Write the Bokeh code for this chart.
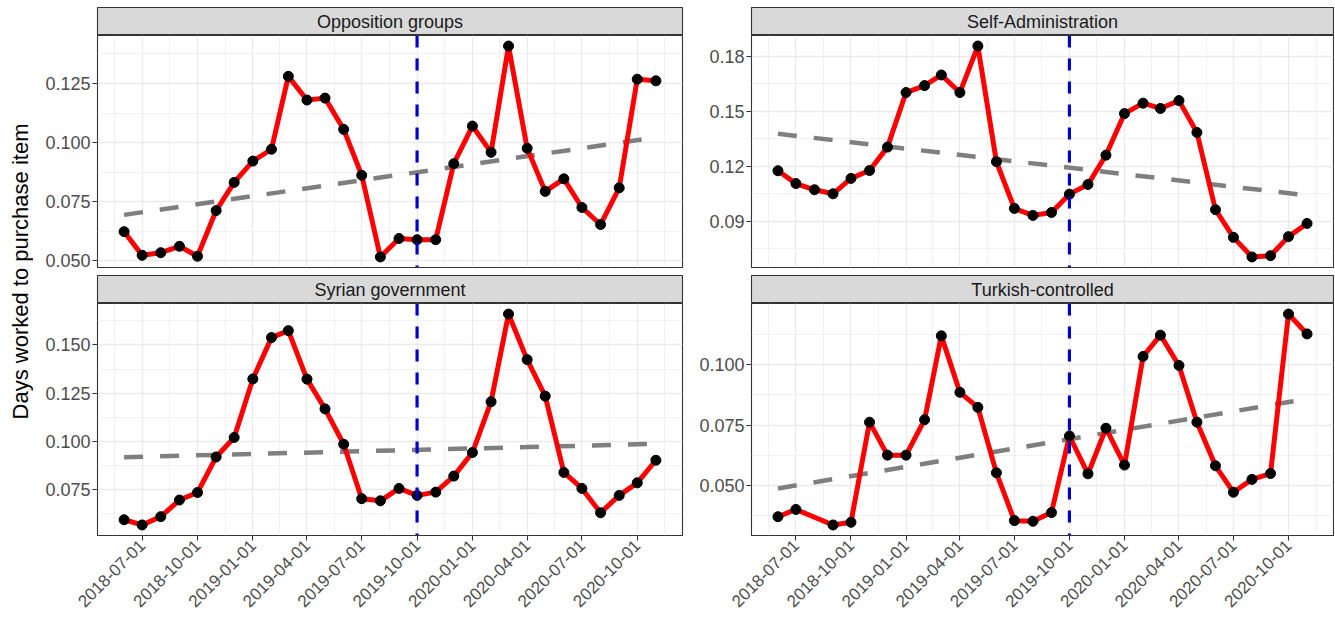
import math
import numpy as np
import pandas as pd
from bokeh.plotting import figure
from bokeh.layouts import row, column
from bokeh.models import Range1d, FixedTicker, DatetimeTickFormatter, PrintfTickFormatter, Span
from bokeh.core.properties import value
from bokeh.embed import file_html
from bokeh.resources import INLINE

# ---------------- data ----------------
months = ["2018-06-01", "2018-07-01", "2018-08-01", "2018-09-01", "2018-10-01", "2018-11-01",
          "2018-12-01", "2019-01-01", "2019-02-01", "2019-03-01", "2019-04-01", "2019-05-01",
          "2019-06-01", "2019-07-01", "2019-08-01", "2019-09-01", "2019-10-01", "2019-11-01",
          "2019-12-01", "2020-01-01", "2020-02-01", "2020-03-01", "2020-04-01", "2020-05-01",
          "2020-06-01", "2020-07-01", "2020-08-01", "2020-09-01", "2020-10-01", "2020-11-01"]

opposition = [0.0624, 0.0524, 0.0535, 0.0562, 0.0520, 0.0713, 0.0832, 0.0922, 0.0972, 0.1280,
              0.1180, 0.1188, 0.1056, 0.0862, 0.0517, 0.0595, 0.0590, 0.0590, 0.0911, 0.1070,
              0.0959, 0.1408, 0.0976, 0.0794, 0.0847, 0.0726, 0.0654, 0.0809, 0.1268, 0.1261]

self_admin = [0.1175, 0.1105, 0.1071, 0.1049, 0.1133, 0.1176, 0.1304, 0.1602, 0.1640, 0.1698,
              0.1602, 0.1856, 0.1224, 0.0969, 0.0931, 0.0947, 0.1047, 0.1100, 0.1260, 0.1487,
              0.1544, 0.1515, 0.1558, 0.1384, 0.0962, 0.0811, 0.0704, 0.0711, 0.0815, 0.0887]

syrian_gov = [0.0595, 0.0568, 0.0611, 0.0697, 0.0736, 0.0920, 0.1021, 0.1324, 0.1538, 0.1574,
              0.1323, 0.1169, 0.0986, 0.0704, 0.0693, 0.0757, 0.0721, 0.0738, 0.0821, 0.0943,
              0.1206, 0.1660, 0.1424, 0.1235, 0.0840, 0.0757, 0.0631, 0.0721, 0.0786, 0.0903]

turkish = [0.0372, 0.0402, None, 0.0338, 0.0349, 0.0762, 0.0626, 0.0626, 0.0772, 0.1118,
           0.0885, 0.0823, 0.0553, 0.0356, 0.0353, 0.0389, 0.0705, 0.0549, 0.0737, 0.0585,
           0.1033, 0.1121, 0.0996, 0.0762, 0.0582, 0.0473, 0.0526, 0.0550, 0.1208, 0.1126]

panel_titles = ["Opposition groups", "Self-Administration", "Syrian government", "Turkish-controlled"]

x_ticks = ["2018-07-01", "2018-10-01", "2019-01-01", "2019-04-01", "2019-07-01",
           "2019-10-01", "2020-01-01", "2020-04-01", "2020-07-01", "2020-10-01"]

opp_yticks = [0.050, 0.075, 0.100, 0.125]
sa_yticks = [0.09, 0.12, 0.15, 0.18]
syr_yticks = [0.075, 0.100, 0.125, 0.150]
tur_yticks = [0.050, 0.075, 0.100]

vline_date = "2019-10-01"
y_title = "Days worked to purchase item"

# ---------------- styling ----------------
FONT = "Liberation Sans"
RED = "#FF0000"
GRID = "#EBEBEB"
BORDER = "#333333"


def to_ms(s):
    return pd.Timestamp(s).value / 1e6


xs_all = np.array([to_ms(m) for m in months])
x0, x1 = xs_all.min(), xs_all.max()
xpad = 0.05 * (x1 - x0)
x_major = [to_ms(t) for t in x_ticks]
step = x_major[1] - x_major[0]
x_minor = [x_major[0] - step / 2] + [(a + b) / 2 for a, b in zip(x_major[:-1], x_major[1:])] + [x_major[-1] + step / 2]


def y_minor(ticks):
    st = ticks[1] - ticks[0]
    return [ticks[0] - st / 2] + [(a + b) / 2 for a, b in zip(ticks[:-1], ticks[1:])] + [ticks[-1] + st / 2]


def make_strip(title, width, height, bl, br, bt):
    s = figure(width=width, height=height, output_backend="svg", toolbar_location=None, title=None,
               x_range=Range1d(0, 1), y_range=Range1d(0, 1),
               x_axis_location=None, y_axis_location=None,
               min_border_left=bl, min_border_right=br, min_border_top=bt, min_border_bottom=0)
    s.grid.visible = False
    s.background_fill_color = "#D9D9D9"
    s.border_fill_color = "white"
    s.outline_line_color = BORDER
    s.outline_line_width = 1.1
    s.text(x=[0.5], y=[0.5], text=[title], text_align="center", text_baseline="middle",
           text_font=value(FONT), text_font_size="18px", text_color="#1A1A1A")
    return s


def make_panel(vals, yticks, fmt, width, height, bl, br, bb, bottom):
    pts = [(x, v) for x, v in zip(xs_all, vals) if v is not None]
    xs = np.array([p[0] for p in pts])
    ys = np.array([p[1] for p in pts])
    lo, hi = ys.min(), ys.max()
    ypad = 0.05 * (hi - lo)
    p = figure(width=width, height=height, output_backend="svg", toolbar_location=None, title=None,
               x_range=Range1d(x0 - xpad, x1 + xpad), y_range=Range1d(lo - ypad, hi + ypad),
               x_axis_type="datetime" if bottom else "linear",
               x_axis_location="below" if bottom else None,
               min_border_left=bl, min_border_right=br, min_border_top=0, min_border_bottom=bb)
    p.background_fill_color = "white"
    p.border_fill_color = "white"
    p.outline_line_color = BORDER
    p.outline_line_width = 1.1

    xt = FixedTicker(ticks=x_major, minor_ticks=x_minor)
    yt = FixedTicker(ticks=yticks, minor_ticks=y_minor(yticks))
    p.xgrid.ticker = xt
    p.ygrid.ticker = yt
    for g in (p.xgrid, p.ygrid):
        g.grid_line_color = GRID
        g.grid_line_width = 1.3
        g.minor_grid_line_color = GRID
        g.minor_grid_line_width = 0.7

    p.yaxis.ticker = yt
    p.yaxis.formatter = PrintfTickFormatter(format=fmt)
    axes = list(p.yaxis)
    if bottom:
        p.xaxis.ticker = xt
        f = "%Y-%m-%d"
        p.xaxis.formatter = DatetimeTickFormatter(days=f, months=f, years=f, hours=f, minutes=f,
                                                  hourmin=f, seconds=f, minsec=f,
                                                  milliseconds=f, microseconds=f)
        p.xaxis.major_label_orientation = math.pi / 4
        p.xaxis.major_label_text_font_size = "17px"
        axes += list(p.xaxis)
    for ax in axes:
        ax.axis_line_color = None
        ax.major_tick_line_color = BORDER
        ax.major_tick_line_width = 1.1
        ax.major_tick_out = 5
        ax.major_tick_in = 0
        ax.minor_tick_line_color = None
        ax.major_label_standoff = 2
        ax.major_label_text_font = FONT
        ax.major_label_text_color = "#4D4D4D"
    p.yaxis.major_label_text_font_size = "18px"

    # linear trend (least squares fit, like geom_smooth(method = "lm"))
    days = (xs - xs[0]) / 86400000.0
    slope, icpt = np.polyfit(days, ys, 1)
    tx = np.array([xs[0], xs[-1]])
    ty = icpt + slope * (tx - xs[0]) / 86400000.0
    p.line(tx, ty, line_color="#7F7F7F", line_width=4.5, line_dash="19 17")

    p.line(xs, ys, line_color=RED, line_width=5)
    p.scatter(xs, ys, size=10, fill_color="black", line_color="black")
    p.add_layout(Span(location=to_ms(vline_date), dimension="height", line_color="#0000CC",
                      line_width=3.2, line_dash="12 11"))
    return p


# ---------------- layout ----------------
YTW = 33
LW, RW = 653, 648
LBL, LBR = 64, 4
RBL, RBR = 65, 1
TOP_STRIP_H, TOP_H = 35, 240
BOT_STRIP_H, BOT_H = 28, 312

series = [opposition, self_admin, syrian_gov, turkish]
ytk = [opp_yticks, sa_yticks, syr_yticks, tur_yticks]
fmts = ["%.3f", "%.2f", "%.3f", "%.3f"]

strip_tl = make_strip(panel_titles[0], LW, TOP_STRIP_H, LBL, LBR, 7)
panel_tl = make_panel(series[0], ytk[0], fmts[0], LW, TOP_H, LBL, LBR, 8, False)
strip_tr = make_strip(panel_titles[1], RW, TOP_STRIP_H, RBL, RBR, 7)
panel_tr = make_panel(series[1], ytk[1], fmts[1], RW, TOP_H, RBL, RBR, 8, False)
strip_bl = make_strip(panel_titles[2], LW, BOT_STRIP_H, LBL, LBR, 0)
panel_bl = make_panel(series[2], ytk[2], fmts[2], LW, BOT_H, LBL, LBR, 80, True)
strip_br = make_strip(panel_titles[3], RW, BOT_STRIP_H, RBL, RBR, 0)
panel_br = make_panel(series[3], ytk[3], fmts[3], RW, BOT_H, RBL, RBR, 80, True)

total_h = TOP_STRIP_H + TOP_H + BOT_STRIP_H + BOT_H
yt_fig = figure(width=YTW, height=total_h, output_backend="svg", toolbar_location=None, title=None,
                x_range=Range1d(0, YTW), y_range=Range1d(total_h, 0),
                x_axis_location=None, y_axis_location=None,
                min_border_left=0, min_border_right=0, min_border_top=0, min_border_bottom=0)
yt_fig.grid.visible = False
yt_fig.outline_line_color = None
yt_fig.background_fill_color = "white"
yt_fig.border_fill_color = "white"
center_y = (7 + (total_h - 80)) / 2.0
yt_fig.text(x=[20], y=[center_y], text=[y_title], angle=math.pi / 2,
            text_align="center", text_baseline="middle",
            text_font=value(FONT), text_font_size="22px", text_color="black")

left_col = column(strip_tl, panel_tl, strip_bl, panel_bl)
right_col = column(strip_tr, panel_tr, strip_br, panel_br)
layout = row(yt_fig, left_col, right_col)

open("out.html", "w").write(file_html(layout, INLINE))
